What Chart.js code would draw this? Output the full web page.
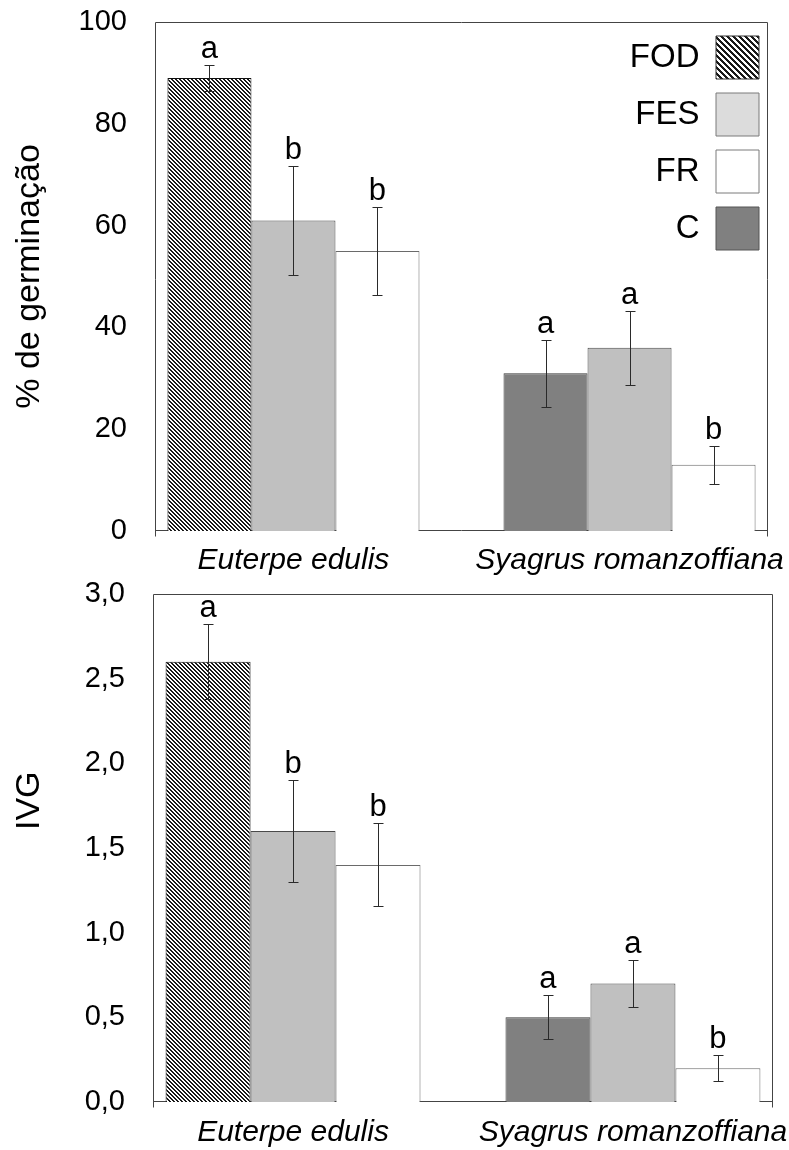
<!DOCTYPE html>
<html><head><meta charset="utf-8">
<script src="https://cdn.jsdelivr.net/npm/chart.js@4.4.1/dist/chart.umd.min.js"></script>
<style>
html,body{margin:0;padding:0;background:#fff;}
body{width:789px;height:1150px;position:relative;overflow:hidden;}
.wrap{position:absolute;left:0;width:789px;}
#w1{top:0;height:600px;}
#w2{top:560px;height:590px;}
canvas{display:block;}
</style></head><body>
<div class="wrap" id="w1"><canvas id="c1" width="789" height="600"></canvas></div>
<div class="wrap" id="w2"><canvas id="c2" width="789" height="590"></canvas></div>
<script>
// ---------- DATA ----------
const categories = ['Euterpe edulis', 'Syagrus romanzoffiana'];
const treatments = ['FOD', 'FES', 'FR', 'C'];

// % de germinação
const germFOD = [89, null];
const germFES = [61, 36];
const germFR  = [55, 13];
const germC   = [null, 31];
const germErrFOD = [2.5, null];
const germErrFES = [10.7, 7.3];
const germErrFR  = [8.6, 3.7];
const germErrC   = [null, 6.6];
const germLetFOD = ['a', null];
const germLetFES = ['b', 'a'];
const germLetFR  = ['b', 'b'];
const germLetC   = [null, 'a'];
const germTicks = [0, 20, 40, 60, 80, 100];
const germTickLabels = ['0', '20', '40', '60', '80', '100'];

// IVG
const ivgFOD = [2.6, null];
const ivgFES = [1.6, 0.7];
const ivgFR  = [1.4, 0.2];
const ivgC   = [null, 0.5];
const ivgErrFOD = [0.22, null];
const ivgErrFES = [0.30, 0.14];
const ivgErrFR  = [0.245, 0.075];
const ivgErrC   = [null, 0.13];
const ivgLetFOD = ['a', null];
const ivgLetFES = ['b', 'a'];
const ivgLetFR  = ['b', 'b'];
const ivgLetC   = [null, 'a'];
const ivgTicks = [0, 0.5, 1.0, 1.5, 2.0, 2.5, 3.0];
const ivgTickLabels = ['0,0', '0,5', '1,0', '1,5', '2,0', '2,5', '3,0'];

// ---------- helpers ----------
Chart.defaults.font.family = '"Liberation Sans", Arial, Helvetica, sans-serif';
Chart.defaults.color = '#000';

const firstOf = (a, b) => categories.map((_, i) => (a[i] != null ? a[i] : b[i]));
const slotNames = [
  categories.map((_, i) => (germFOD[i] != null ? 'FOD' : 'C')),
  categories.map(() => 'FES'),
  categories.map(() => 'FR')
];

function hatch(ctx, size, dark) {
  const c = document.createElement('canvas');
  c.width = c.height = size;
  const g = c.getContext('2d');
  const img = g.createImageData(size, size);
  for (let y = 0; y < size; y++) for (let x = 0; x < size; x++) {
    const d = (((x - y) % size) + size) % size < dark;
    const v = d ? 25 : 255, k = (y * size + x) * 4;
    img.data[k] = img.data[k + 1] = img.data[k + 2] = v; img.data[k + 3] = 255;
  }
  g.putImageData(img, 0, 0);
  return ctx.createPattern(c, 'repeat');
}

function makeChart(o) {
  const canvas = document.getElementById(o.id);
  const ctx = canvas.getContext('2d');
  const W = canvas.width, H = canvas.height;
  const barHatch = hatch(ctx, 4, 2);
  const legHatch = hatch(ctx, 6, 3);
  const barStyle = {
    FOD: {fill: barHatch, border: '#111'},
    FES: {fill: '#c0c0c0', border: '#4a4a4a'},
    FR:  {fill: '#ffffff', border: '#6a6a6a'},
    C:   {fill: '#808080', border: '#3a3a3a'}
  };
  const legStyle = {
    FOD: {fill: legHatch, border: '#333'},
    FES: {fill: '#dcdcdc', border: '#7a7a7a'},
    FR:  {fill: '#ffffff', border: '#7a7a7a'},
    C:   {fill: '#808080', border: '#555'}
  };
  const datasets = o.slots.map((vals, k) => ({
    label: slotNames[k].join('/'),
    data: categories.map((_, i) => ({x: i, y: vals[i]})),
    backgroundColor: slotNames[k].map(n => barStyle[n].fill),
    borderColor: slotNames[k].map(n => barStyle[n].border),
    borderWidth: 1,
    categoryPercentage: 0.75,
    barPercentage: 1
  }));
  const A = o.area;

  const framePlugin = {
    id: 'frame',
    beforeDatasetsDraw(chart) {
      const a = chart.chartArea, c = chart.ctx;
      c.save();
      c.strokeStyle = '#444'; c.lineWidth = 1;
      const l = Math.round(a.left) + 0.5, r = Math.round(a.right) - 0.5;
      const t = Math.round(a.top) + 0.5, b = Math.round(a.bottom) - 0.5;
      c.beginPath();
      c.moveTo(l, t); c.lineTo(r, t); c.lineTo(r, b + 6);
      c.moveTo(l, t); c.lineTo(l, b + 6);
      c.moveTo(l, b); c.lineTo(r, b);
      c.stroke();
      c.restore();
    }
  };
  const errPlugin = {
    id: 'errs',
    afterDatasetsDraw(chart) {
      const c = chart.ctx, ys = chart.scales.y;
      c.save();
      chart.data.datasets.forEach((ds, di) => {
        const meta = chart.getDatasetMeta(di);
        meta.data.forEach((bar, j) => {
          const v = o.slots[di][j], e = o.errs[di][j];
          if (v == null || e == null) return;
          const x = Math.round(bar.x) + 0.5;
          const yt = Math.round(ys.getPixelForValue(v + e)) + 0.5;
          const yb = Math.round(ys.getPixelForValue(v - e)) + 0.5;
          c.strokeStyle = '#2a2a2a'; c.lineWidth = 1;
          c.beginPath();
          c.moveTo(x, yt); c.lineTo(x, yb);
          c.moveTo(x - 5, yt); c.lineTo(x + 5, yt);
          c.moveTo(x - 5, yb); c.lineTo(x + 5, yb);
          c.stroke();
          const L = o.letters[di][j];
          if (L) {
            c.fillStyle = '#000';
            c.font = '31px "Liberation Sans", Arial, sans-serif';
            c.textAlign = 'center'; c.textBaseline = 'alphabetic';
            c.fillText(L, bar.x, yt - 8);
          }
        });
      });
      c.restore();
    }
  };
  const legendPlace = {
    id: 'legendPlace',
    afterLayout(chart) {
      const lg = chart.legend;
      if (!lg || !o.legend) return;
      const a = chart.chartArea;
      lg.left = a.left; lg.right = a.right + 5; lg.width = lg.right - lg.left;
      lg.top = a.top; lg.bottom = a.bottom; lg.height = a.bottom - a.top;
    }
  };

  return new Chart(ctx, {
    type: 'bar',
    data: {datasets},
    plugins: [framePlugin, errPlugin, legendPlace],
    options: {
      responsive: false,
      animation: false,
      devicePixelRatio: 1,
      events: [],
      layout: {padding: {left: 0, top: A.top, right: W - A.right, bottom: 0}},
      plugins: {
        tooltip: {enabled: false},
        legend: {
          display: o.legend,
          position: 'chartArea',
          align: 'start',
          rtl: true,
          labels: {
            boxWidth: 43, boxHeight: 43, padding: 14,
            font: {size: 33},
            color: '#000',
            generateLabels: () => treatments.map((t, i) => ({
              text: t, fillStyle: legStyle[t].fill, strokeStyle: legStyle[t].border,
              lineWidth: 1, hidden: false, fontColor: '#000', datasetIndex: 0, index: i
            }))
          }
        }
      },
      scales: {
        x: {
          type: 'linear',
          offset: false,
          min: -0.412, max: 1.412,
          afterBuildTicks: ax => { ax.ticks = categories.map((_, i) => ({value: i})); },
          ticks: {
            callback: (v, i) => categories[i],
            autoSkip: false, maxRotation: 0, minRotation: 0,
            padding: o.xPad,
            font: {size: 30, style: 'italic'},
            color: '#000'
          },
          grid: {display: false, drawTicks: false},
          border: {display: false},
          afterFit: ax => { ax.height = H - A.bottom; ax.paddingLeft = 0; ax.paddingRight = 0; }
        },
        y: {
          min: o.yMin, max: o.yMax,
          afterBuildTicks: ax => { ax.ticks = o.ticks.map(v => ({value: v})); },
          ticks: {
            callback: (v, i) => o.tickLabels[i],
            padding: 28,
            font: {size: 29},
            color: '#000'
          },
          grid: {display: false, drawTicks: false},
          border: {display: false},
          title: {display: true, text: o.title, font: {size: 34}, padding: {top: 9, bottom: 0}, color: '#000'},
          afterFit: ax => { ax.width = A.left; ax.paddingTop = 0; ax.paddingBottom = 0; }
        }
      }
    }
  });
}

makeChart({
  id: 'c1',
  area: {left: 155, top: 22, right: 768, bottom: 531},
  slots: [firstOf(germFOD, germC), germFES, germFR],
  errs: [firstOf(germErrFOD, germErrC), germErrFES, germErrFR],
  letters: [firstOf(germLetFOD, germLetC), germLetFES, germLetFR],
  yMin: 0, yMax: 100,
  ticks: germTicks, tickLabels: germTickLabels,
  title: '% de germinação',
  xPad: 12,
  legend: true
});

makeChart({
  id: 'c2',
  area: {left: 153, top: 34, right: 773, bottom: 542},
  slots: [firstOf(ivgFOD, ivgC), ivgFES, ivgFR],
  errs: [firstOf(ivgErrFOD, ivgErrC), ivgErrFES, ivgErrFR],
  letters: [firstOf(ivgLetFOD, ivgLetC), ivgLetFES, ivgLetFR],
  yMin: 0, yMax: 3,
  ticks: ivgTicks, tickLabels: ivgTickLabels,
  title: '          IVG',
  xPad: 13,
  legend: false
});
</script>
</body></html>
